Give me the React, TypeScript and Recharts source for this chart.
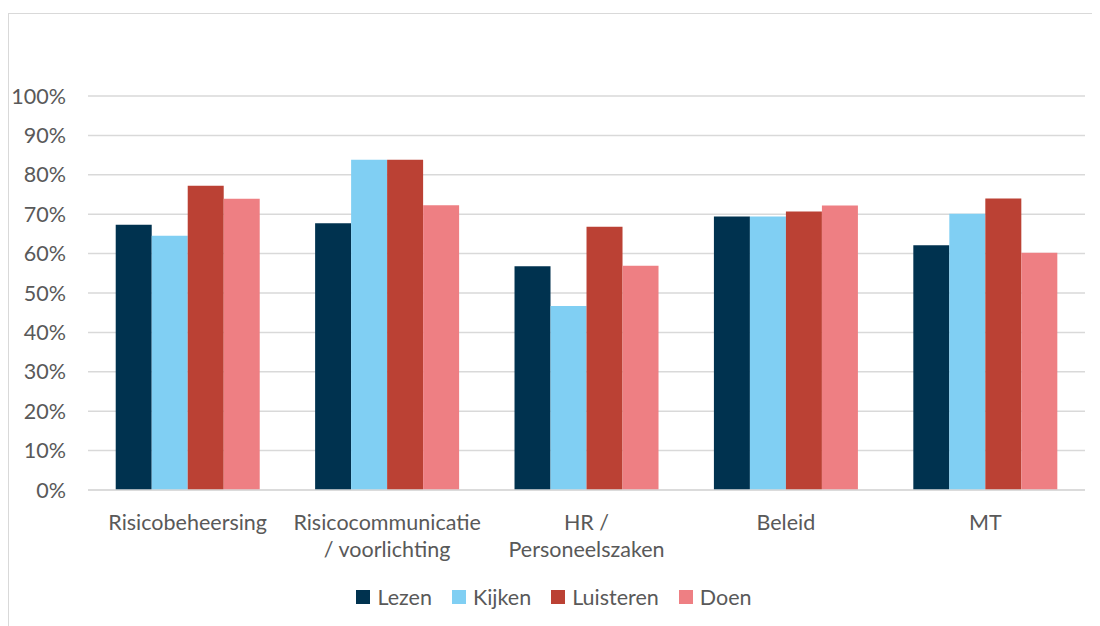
import React from "react";
import { BarChart, Bar, XAxis, YAxis, CartesianGrid } from "recharts";

const categoryLines: string[][] = [
  ["Risicobeheersing"],
  ["Risicocommunicatie", "/ voorlichting"],
  ["HR /", "Personeelszaken"],
  ["Beleid"],
  ["MT"],
];
const categories = ["Risicobeheersing", "Risicocommunicatie / voorlichting", "HR / Personeelszaken", "Beleid", "MT"];
const lezen = [0.673, 0.677, 0.568, 0.694, 0.621];
const kijken = [0.645, 0.838, 0.467, 0.694, 0.701];
const luisteren = [0.772, 0.838, 0.668, 0.707, 0.740];
const doen = [0.739, 0.723, 0.569, 0.722, 0.602];
const yTicks = [0, 0.1, 0.2, 0.3, 0.4, 0.5, 0.6, 0.7, 0.8, 0.9, 1];

const series = [
  { key: "Lezen", color: "#00324f", values: lezen },
  { key: "Kijken", color: "#80cff3", values: kijken },
  { key: "Luisteren", color: "#bb4134", values: luisteren },
  { key: "Doen", color: "#ee7f83", values: doen },
];

const data = categories.map((c, i) => {
  const row: any = { name: c, idx: i };
  series.forEach((s) => (row[s.key] = s.values[i]));
  return row;
});

const FONT = "Lato, 'Open Sans', sans-serif";
const TEXT = "#595959";
const FS = 21.5;

const XTick = (props: any) => {
  const { x, y, payload } = props;
  const lines = categoryLines[payload.index] || [payload.value];
  return (
    <g>
      {lines.map((l, i) => (
        <text key={i} x={x} y={y + 32 + i * 27} textAnchor="middle" fill={TEXT} fontSize={FS} fontFamily={FONT}>
          {l}
        </text>
      ))}
    </g>
  );
};

const Legend2 = () => (
  <div style={{ position: "absolute", left: 0, top: 570, width: 1090, display: "flex", justifyContent: "center", fontFamily: FONT, fontSize: FS, color: TEXT }}>
    {series.map((s, i) => (
      <div key={s.key} style={{ display: "flex", alignItems: "center", marginLeft: i === 0 ? 0 : 20 }}>
        <div style={{ width: 14, height: 14, background: s.color, marginRight: 7 }} />
        <span>{s.key}</span>
      </div>
    ))}
  </div>
);

export default function App() {
  return (
    <div style={{ marginTop: 5, width: 1090, height: 618, border: "1px solid #d9d9d9", position: "relative", background: "#fff" }}>
      <BarChart width={1090} height={613} data={data} margin={{ top: 82, right: 14, left: 0, bottom: 50 }} barGap={0} barCategoryGap="13.9%">
        <CartesianGrid vertical={false} stroke="#d9d9d9" strokeWidth={1.5} />
        <XAxis dataKey="name" height={87} tick={<XTick />} tickLine={false} axisLine={{ stroke: "#d9d9d9", strokeWidth: 1.5 }} interval={0} />
        <YAxis width={79} domain={[0, 1]} ticks={yTicks} tickFormatter={(v: number) => `${Math.round(v * 100)}%`} tickLine={false} axisLine={false} tickSize={0} tickMargin={22} tick={{ fill: TEXT, fontSize: FS, fontFamily: FONT }} />
        {series.map((s) => (
          <Bar key={s.key} dataKey={s.key} fill={s.color} isAnimationActive={false} />
        ))}
      </BarChart>
      <Legend2 />
    </div>
  );
}
